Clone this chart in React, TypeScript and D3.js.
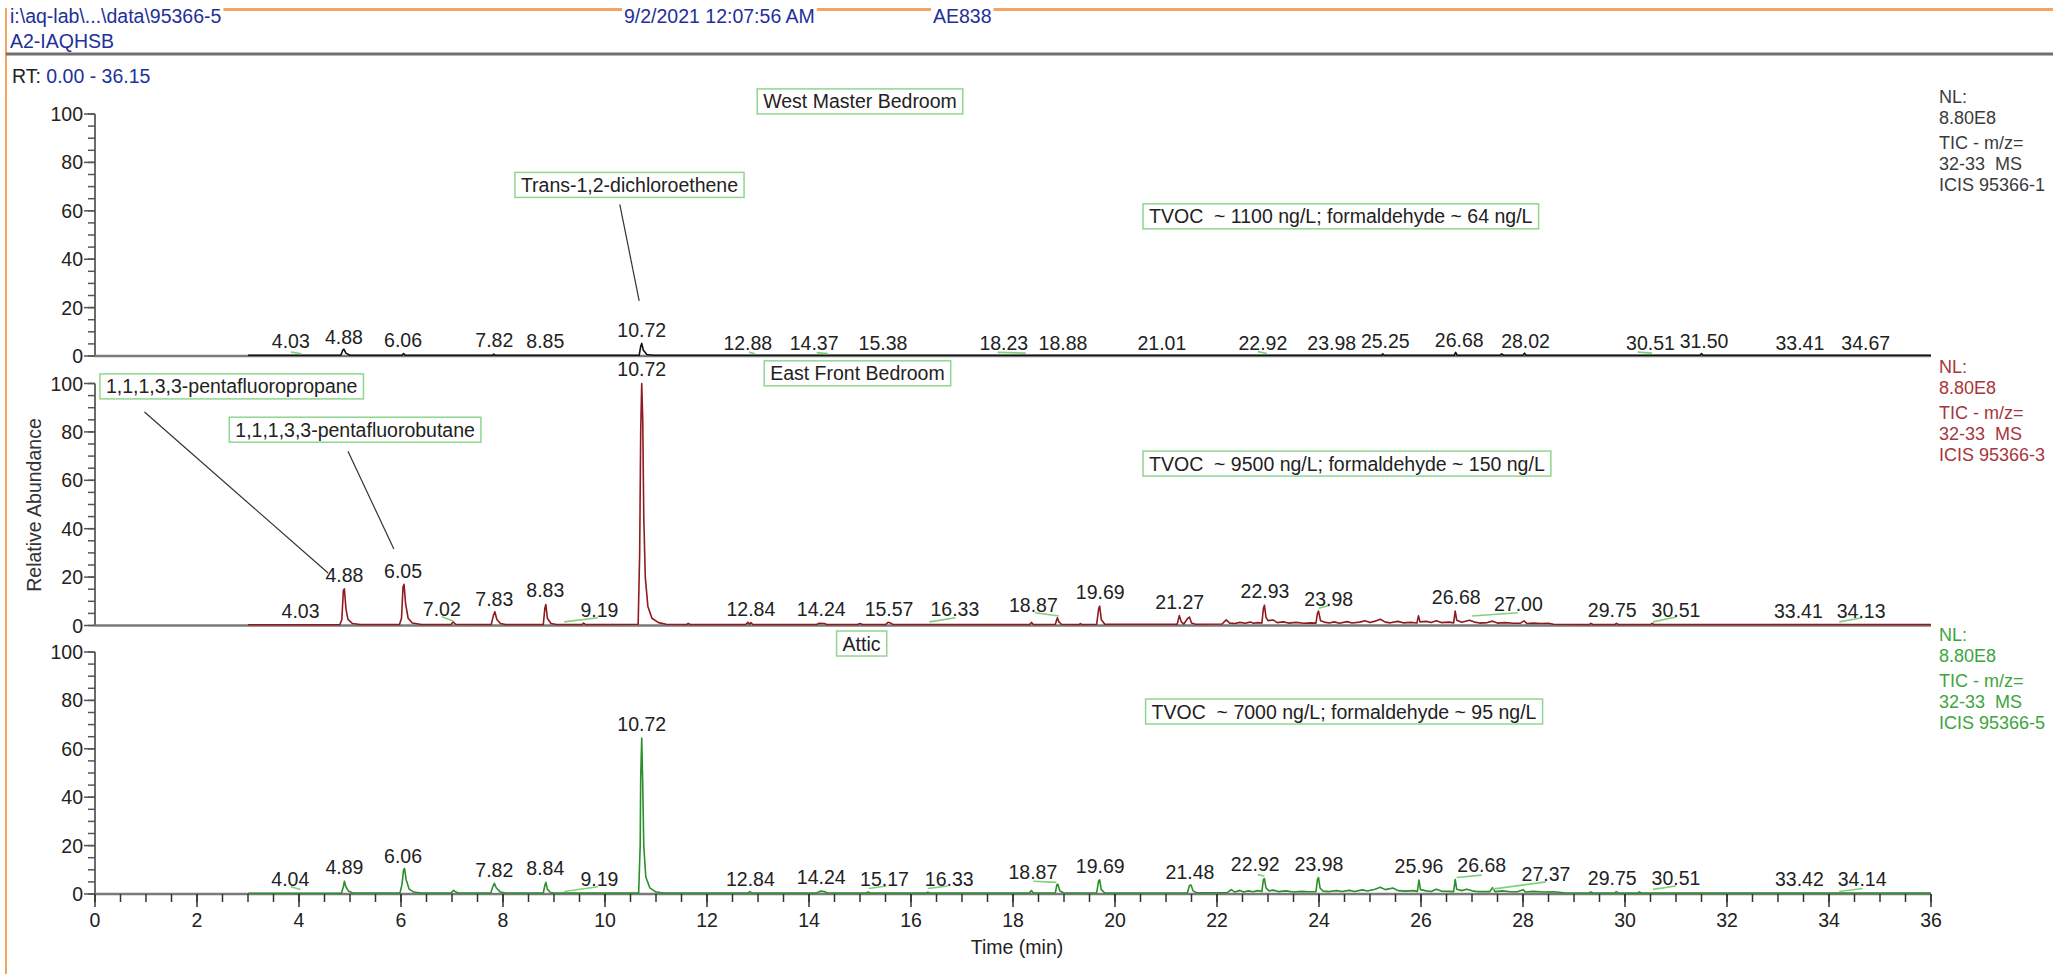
import { useEffect, useRef } from 'react'
import * as d3 from 'd3'

// chromatogram overlay: three rooms, TIC m/z 32-33

const PANEL_NAMES = ['West Master Bedroom', 'East Front Bedroom', 'Attic']
const TVOC_NOTES = [
  'TVOC  ~ 1100 ng/L; formaldehyde ~ 64 ng/L',
  'TVOC  ~ 9500 ng/L; formaldehyde ~ 150 ng/L',
  'TVOC  ~ 7000 ng/L; formaldehyde ~ 95 ng/L',
]
const SAMPLE_IDS = ['ICIS 95366-1', 'ICIS 95366-3', 'ICIS 95366-5']
const NL_VALUE = '8.80E8'
const X_TICK_LABELS = [0, 2, 4, 6, 8, 10, 12, 14, 16, 18, 20, 22, 24, 26, 28, 30, 32, 34, 36]
const Y_TICK_LABELS = [0, 20, 40, 60, 80, 100]

// [time (min), relative abundance]
const WEST_TRACE = [
  [3.0, 0.3], [4.82, 0.3], [4.86, 2.5], [4.88, 2.8], [4.92, 1.2], [5.0, 0.3], [6.02, 0.3], [6.05, 1.0],
  [6.09, 0.3], [7.8, 0.3], [7.82, 0.8], [7.85, 0.3], [10.67, 0.3], [10.7, 4], [10.72, 5.2], [10.75, 2.5],
  [10.82, 0.6], [10.95, 0.3], [25.23, 0.3], [25.25, 0.9], [25.28, 0.3], [26.65, 0.3], [26.68, 1.5],
  [26.71, 0.3], [27.55, 0.3], [27.58, 0.9], [27.62, 0.3], [28.0, 0.3], [28.03, 1.2], [28.06, 0.3],
  [31.47, 0.3], [31.5, 1.0], [31.53, 0.3], [36.0, 0.3],
]
const EAST_TRACE = [
  [3.0, 0.3], [4.8, 0.3], [4.84, 2.5], [4.87, 14.5], [4.89, 15.1], [4.92, 7], [4.96, 2.5], [5.05, 0.8], [5.2, 0.4],
  [5.97, 0.4], [6.01, 3], [6.04, 16], [6.06, 17], [6.09, 9], [6.14, 3], [6.22, 1], [6.4, 0.4],
  [6.98, 0.4], [7.02, 1.5], [7.07, 0.5],
  [7.77, 0.4], [7.81, 4], [7.84, 5.7], [7.88, 2.5], [7.95, 0.8], [8.05, 0.4],
  [8.79, 0.4], [8.82, 7], [8.84, 8.7], [8.87, 3], [8.94, 0.8], [9.05, 0.4],
  [9.55, 0.4], [9.58, 1.0], [9.62, 0.4],
  [10.65, 0.5], [10.68, 30], [10.7, 80], [10.72, 100], [10.74, 85], [10.76, 45], [10.79, 20], [10.84, 8],
  [10.92, 3], [11.05, 1.2], [11.2, 0.5],
  [11.6, 0.4], [11.63, 0.9], [11.67, 0.4],
  [12.76, 0.4], [12.8, 1.3], [12.83, 0.5], [12.86, 1.2], [12.9, 0.4],
  [14.15, 0.4], [14.2, 0.9], [14.3, 0.8], [14.35, 0.4],
  [14.95, 0.4], [15.0, 0.8], [15.05, 0.4],
  [15.5, 0.4], [15.55, 1.3], [15.6, 1.0], [15.65, 0.4],
  [18.33, 0.4], [18.36, 1.3], [18.4, 0.4],
  [18.83, 0.5], [18.87, 3.2], [18.9, 1.5], [18.95, 0.5],
  [19.3, 0.4], [19.32, 0.8], [19.35, 0.4],
  [19.64, 0.5], [19.68, 7], [19.7, 8], [19.73, 2.5], [19.8, 0.5],
  [21.22, 0.5], [21.26, 4.1], [21.3, 1.5], [21.35, 0.6], [21.42, 2.8], [21.46, 3.5], [21.5, 1], [21.58, 0.5],
  [22.1, 0.6], [22.18, 2.3], [22.25, 1.0], [22.35, 0.8], [22.45, 1.3], [22.55, 0.9], [22.65, 1.4], [22.72, 0.9],
  [22.8, 1.2], [22.88, 1.0], [22.91, 7], [22.93, 8.4], [22.96, 3.5], [23.0, 2], [23.1, 2.3], [23.18, 1.2],
  [23.3, 1.5], [23.4, 1.0], [23.55, 1.3], [23.7, 0.9], [23.85, 1.1],
  [23.94, 1.0], [23.97, 5], [23.99, 6], [24.03, 2], [24.1, 1.4], [24.2, 1.0], [24.3, 1.5], [24.4, 0.9],
  [24.55, 1.6], [24.65, 1.0], [24.8, 1.4], [24.9, 2.0], [25.0, 1.2], [25.1, 1.8], [25.2, 2.6], [25.3, 1.4],
  [25.4, 1.1], [25.55, 1.7], [25.65, 1.1], [25.8, 1.3], [25.92, 1.0], [25.95, 4], [25.98, 1.5], [26.1, 1.7],
  [26.2, 1.2], [26.3, 2.0], [26.4, 1.2], [26.55, 1.4], [26.64, 1.1], [26.67, 6], [26.7, 2.2], [26.8, 1.3],
  [26.95, 2.2], [27.05, 1.4], [27.15, 1.0], [27.3, 1.2], [27.4, 1.8], [27.5, 1.0], [27.65, 1.2], [27.8, 0.9],
  [27.95, 1.0], [28.02, 1.9], [28.08, 0.8], [28.2, 1.0], [28.35, 0.8], [28.5, 0.9], [28.6, 0.5],
  [29.3, 0.4], [29.33, 0.9], [29.37, 0.4], [29.8, 0.4], [29.83, 0.9], [29.87, 0.4],
  [30.5, 0.4], [30.53, 0.9], [30.57, 0.4], [36.0, 0.4],
]
const ATTIC_TRACE = [
  [3.0, 0.3], [4.83, 0.3], [4.87, 3], [4.89, 5.3], [4.92, 3], [4.97, 1.2], [5.05, 0.4],
  [5.98, 0.4], [6.02, 4], [6.05, 10], [6.07, 10.5], [6.1, 6], [6.16, 2], [6.25, 0.8], [6.4, 0.4],
  [6.98, 0.4], [7.03, 1.5], [7.08, 0.8], [7.12, 0.4],
  [7.76, 0.4], [7.8, 3], [7.83, 4.4], [7.87, 2.5], [7.95, 0.8], [8.05, 0.4],
  [8.79, 0.4], [8.82, 3.5], [8.84, 4.8], [8.87, 2], [8.93, 0.6], [9.0, 0.4],
  [10.66, 0.4], [10.69, 20], [10.7, 48], [10.72, 64.4], [10.74, 45], [10.76, 20], [10.8, 7], [10.88, 2.5],
  [11.0, 0.8], [11.15, 0.4],
  [12.8, 0.4], [12.84, 1.0], [12.88, 0.4],
  [14.15, 0.4], [14.22, 1.2], [14.3, 1.0], [14.36, 0.4],
  [15.12, 0.4], [15.16, 0.8], [15.2, 0.4],
  [16.3, 0.4], [16.33, 0.8], [16.36, 0.4],
  [18.32, 0.4], [18.36, 1.4], [18.4, 0.4],
  [18.83, 0.5], [18.86, 3.8], [18.88, 4], [18.92, 1.2], [19.0, 0.4],
  [19.64, 0.5], [19.68, 5.5], [19.7, 5.8], [19.73, 1.8], [19.8, 0.4],
  [21.42, 0.5], [21.46, 3.5], [21.49, 3.7], [21.53, 1.3], [21.6, 0.5],
  [22.2, 0.6], [22.28, 1.8], [22.35, 0.8], [22.45, 1.5], [22.52, 0.8], [22.62, 1.3], [22.7, 0.9], [22.8, 1.4],
  [22.88, 1.0], [22.91, 6], [22.93, 6.4], [22.96, 2.5], [23.02, 1.3], [23.1, 1.6], [23.2, 1.0], [23.35, 1.3],
  [23.5, 0.8], [23.65, 1.1], [23.8, 0.9], [23.94, 1.0], [23.97, 6], [23.99, 6.8], [24.02, 2.5], [24.08, 1.2],
  [24.2, 1.0], [24.35, 1.4], [24.45, 1.0], [24.6, 1.5], [24.7, 1.0], [24.85, 1.7], [24.95, 1.2], [25.1, 2.0],
  [25.2, 2.8], [25.3, 1.8], [25.45, 2.5], [25.55, 1.4], [25.7, 1.2], [25.85, 1.4], [25.93, 1.1], [25.96, 5.8],
  [25.99, 1.8], [26.1, 1.3], [26.2, 1.0], [26.3, 2.0], [26.4, 1.2], [26.55, 1.1], [26.64, 1.0], [26.67, 6],
  [26.7, 2], [26.8, 1.4], [26.9, 2.0], [27.0, 1.3], [27.1, 1.0], [27.35, 1.0], [27.4, 2.6], [27.45, 1.0],
  [27.6, 1.3], [27.75, 0.9], [27.9, 1.0], [28.0, 1.8], [28.05, 0.8], [28.2, 1.1], [28.4, 0.8], [28.6, 0.9],
  [28.8, 0.5], [29.3, 0.4], [29.33, 0.9], [29.37, 0.4], [29.8, 0.4], [29.83, 1.0], [29.87, 0.4],
  [30.25, 0.4], [30.28, 0.9], [30.32, 0.4], [36.0, 0.4],
]

// peak labels: [retention time, label centre (min), label level (abundance)]
const WEST_PEAKS = [
  [4.03, 3.84, 3.5], [4.88, 4.88, 4.8], [6.06, 6.04, 3.9], [7.82, 7.83, 3.9], [8.85, 8.83, 3.5],
  [10.72, 10.72, 7.9], [12.88, 12.8, 2.6], [14.37, 14.1, 2.6], [15.38, 15.45, 2.6], [18.23, 17.82, 2.6],
  [18.88, 18.98, 2.6], [21.01, 20.92, 2.6], [22.92, 22.9, 2.6], [23.98, 24.25, 2.6], [25.25, 25.3, 3.2],
  [26.68, 26.75, 3.9], [28.02, 28.05, 3.5], [30.51, 30.5, 2.6], [31.5, 31.55, 3.2], [33.41, 33.43, 2.6],
  [34.67, 34.72, 2.6],
]
const EAST_PEAKS = [
  [4.03, 4.03, 2.9], [4.88, 4.89, 17.8], [6.05, 6.04, 19.8], [7.02, 6.8, 4.0], [7.83, 7.83, 8.2],
  [8.83, 8.83, 11.9], [9.19, 9.89, 3.6], [10.72, 10.72, 103.2], [12.84, 12.86, 4.1], [14.24, 14.24, 4.1],
  [15.57, 15.57, 4.1], [16.33, 16.86, 3.9], [18.87, 18.4, 5.7], [19.69, 19.71, 10.8], [21.27, 21.27, 6.9],
  [22.93, 22.94, 11.5], [23.98, 24.19, 8.0], [26.68, 26.69, 8.7], [27.0, 27.91, 6.0], [29.75, 29.75, 3.6],
  [30.51, 31.0, 3.6], [33.41, 33.4, 3.2], [34.13, 34.63, 3.2],
]
const ATTIC_PEAKS = [
  [4.04, 3.83, 3.3], [4.89, 4.89, 8.1], [6.06, 6.04, 13], [7.82, 7.83, 7.1], [8.84, 8.83, 7.7],
  [9.19, 9.89, 3.4], [10.72, 10.72, 67.4], [12.84, 12.85, 3.4], [14.24, 14.24, 4.1], [15.17, 15.48, 3.4],
  [16.33, 16.75, 3.4], [18.87, 18.39, 6], [19.69, 19.71, 8.8], [21.48, 21.47, 6], [22.92, 22.75, 9.5],
  [23.98, 24.0, 9.6], [25.96, 25.96, 8.8], [26.68, 27.19, 8.9], [27.37, 28.45, 5.5], [29.75, 29.75, 3.7],
  [30.51, 31.0, 3.7], [33.42, 33.42, 3.3], [34.14, 34.65, 3.3],
]

// integration baseline ticks: [t1, a1, t2, a2]
const WEST_MARKS = [
  [3.84, 1.6, 4.05, 0.9], [12.82, 1.6, 12.94, 0.9], [14.15, 1.4, 14.37, 1.0], [17.7, 1.5, 18.25, 1.2],
  [22.8, 1.8, 22.98, 1.0], [30.25, 1.6, 30.53, 1.2],
]
const EAST_MARKS = [
  [6.8, 3.6, 7.02, 1.9], [9.2, 1.5, 9.86, 3.2], [16.36, 1.5, 16.87, 3.2], [18.43, 5.3, 18.9, 3.9],
  [24.0, 7.1, 24.2, 8.3], [27.0, 3.9, 27.9, 5.3], [30.55, 1.5, 31.0, 3.5], [34.2, 1.5, 34.65, 3.2],
]
const ATTIC_MARKS = [
  [3.84, 3.0, 4.03, 1.9], [9.2, 1.0, 9.86, 3.0], [15.17, 2.3, 15.52, 3.3], [16.33, 2.3, 16.72, 3.3],
  [18.4, 5.3, 18.85, 4.8], [22.8, 8, 22.93, 7.4], [26.7, 6.8, 27.19, 7.8], [27.4, 2.0, 28.45, 5.0],
  [30.55, 1.9, 31.0, 3.3], [34.2, 1.0, 34.66, 2.3],
]

// compound callouts (box centre, leader from, leader to) in [min, abundance]
const CALLOUTS = [
  { panel: 0, text: 'Trans-1,2-dichloroethene', at: [10.48, 70.7], from: [10.29, 62.7], to: [10.67, 22.8] },
  { panel: 1, text: '1,1,1,3,3-pentafluoropropane', at: [2.68, 98.8], from: [0.97, 88.2], to: [4.57, 21.7] },
  { panel: 1, text: '1,1,1,3,3-pentafluorobutane', at: [5.1, 80.9], from: [4.96, 72], to: [5.86, 31.6] },
]
const TITLE_POS = [[15.0, 105.2], [14.95, 104.2], [15.03, 103.5]]
const NOTE_POS = [[20.55, 57.7], [20.55, 66.9], [20.6, 75.4]]

const TRACES = [WEST_TRACE, EAST_TRACE, ATTIC_TRACE]
const PEAKS = [WEST_PEAKS, EAST_PEAKS, ATTIC_PEAKS]
const MARKS = [WEST_MARKS, EAST_MARKS, ATTIC_MARKS]

const TRACE_COLORS = ['#111111', '#8e1b1f', '#2b8f2b']
const INFO_COLORS = ['#3b3b3b', '#a8353b', '#3da53d']
const BOX_STROKE = '#8fd68f'
const MARK_COLOR = '#7fd07f'
const HEADER_BLUE = '#23309a'
const TEXT = '#222'
const FONT = '"Liberation Sans", Arial, sans-serif'
const FS = 19.5

const W = 2053
const H = 974
const PLOT_LEFT = 95
const PLOT_RIGHT = 1931
const PANEL_BOTTOM = [356, 625.5, 894]
const PANEL_H = 242

export default function App() {
  const svgRef = useRef<SVGSVGElement>(null)

  useEffect(() => {
    if (!svgRef.current) return
    const svg = d3.select(svgRef.current)
    svg.selectAll('*').remove()
    svg.attr('font-family', FONT).attr('font-size', FS)

    const x = d3.scaleLinear().domain([0, 36]).range([PLOT_LEFT, PLOT_RIGHT])

    // header block
    const head = svg.append('g')
    const addHead = (txt: string, hx: number, hy: number, color: string) =>
      head.append('text').attr('x', hx).attr('y', hy).attr('dominant-baseline', 'central')
        .attr('fill', color).text(txt)
    const h1 = addHead('i:\\aq-lab\\...\\data\\95366-5', 10, 16, HEADER_BLUE)
    const h2 = addHead('9/2/2021 12:07:56 AM', 624, 16, HEADER_BLUE)
    const h3 = addHead('AE838', 933, 16, HEADER_BLUE)
    addHead('A2-IAQHSB', 10, 41, HEADER_BLUE)
    const w1 = (h1.node() as SVGTextElement).getComputedTextLength()
    const w2 = (h2.node() as SVGTextElement).getComputedTextLength()
    const w3 = (h3.node() as SVGTextElement).getComputedTextLength()
    const gaps = [[10 + w1 + 2, 624 - 2], [624 + w2 + 2, 933 - 2], [933 + w3 + 2, W]]
    gaps.forEach(([a, b]) => {
      head.append('line').attr('x1', a).attr('x2', b).attr('y1', 9.5).attr('y2', 9.5)
        .attr('stroke', '#f5a35e').attr('stroke-width', 3)
    })
    head.append('line').attr('x1', 6).attr('x2', 6).attr('y1', 8).attr('y2', H)
      .attr('stroke', '#f5a35e').attr('stroke-width', 2)
    head.append('line').attr('x1', 6).attr('x2', W).attr('y1', 54).attr('y2', 54)
      .attr('stroke', '#6f6f6f').attr('stroke-width', 3)
    const rt = head.append('text').attr('x', 12).attr('y', 76).attr('dominant-baseline', 'central')
    rt.append('tspan').attr('fill', TEXT).text('RT: ')
    rt.append('tspan').attr('fill', HEADER_BLUE).text('0.00 - 36.15')

    // a box with green border around text
    const drawBox = (g: any, text: string, bx: number, by: number, anchor: string) => {
      const t = g.append('text').attr('x', anchor === 'start' ? bx + 6 : bx).attr('y', by)
        .attr('text-anchor', anchor).attr('dominant-baseline', 'central')
        .attr('fill', TEXT).style('white-space', 'pre').text(text)
      const bb = (t.node() as SVGTextElement).getBBox()
      g.insert('rect', () => t.node())
        .attr('x', bb.x - 6).attr('y', by - 12.5)
        .attr('width', bb.width + 12).attr('height', 25)
        .attr('fill', '#fff').attr('stroke', BOX_STROKE).attr('stroke-width', 1.5)
    }

    PANEL_NAMES.forEach((name, i) => {
      const bottom = PANEL_BOTTOM[i]
      const y = d3.scaleLinear().domain([0, 100]).range([bottom, bottom - PANEL_H])
      const g = svg.append('g')

      // y axis
      g.append('line').attr('x1', PLOT_LEFT).attr('x2', PLOT_LEFT).attr('y1', y(0)).attr('y2', y(100))
        .attr('stroke', '#6a6a6a').attr('stroke-width', 2)
      g.selectAll('.ymin').data(y.ticks(20)).join('line')
        .attr('x1', PLOT_LEFT - 7).attr('x2', PLOT_LEFT).attr('y1', (d) => y(d)).attr('y2', (d) => y(d))
        .attr('stroke', '#555').attr('stroke-width', 1.5)
      g.selectAll('.ymaj').data(Y_TICK_LABELS).join('line')
        .attr('x1', PLOT_LEFT - 11).attr('x2', PLOT_LEFT).attr('y1', (d) => y(d)).attr('y2', (d) => y(d))
        .attr('stroke', '#555').attr('stroke-width', 1.5)
      g.selectAll('.ylab').data(Y_TICK_LABELS).join('text')
        .attr('x', PLOT_LEFT - 12).attr('y', (d) => y(d)).attr('text-anchor', 'end')
        .attr('dominant-baseline', 'central').attr('fill', TEXT).text((d) => d)

      // x baseline
      g.append('line').attr('x1', x(0)).attr('x2', x(36)).attr('y1', y(0)).attr('y2', y(0))
        .attr('stroke', '#7a7a7a').attr('stroke-width', 2.5)

      // trace
      const line = d3.line<number[]>().x((d) => x(d[0])).y((d) => y(d[1]))
      g.append('path').datum(TRACES[i]).attr('d', line).attr('fill', 'none')
        .attr('stroke', TRACE_COLORS[i]).attr('stroke-width', 1.6).attr('stroke-linejoin', 'round')

      // integration marks
      g.selectAll('.mark').data(MARKS[i]).join('line')
        .attr('x1', (d) => x(d[0])).attr('y1', (d) => y(d[1]))
        .attr('x2', (d) => x(d[2])).attr('y2', (d) => y(d[3]))
        .attr('stroke', MARK_COLOR).attr('stroke-width', 1.6)

      // peak labels
      g.selectAll('.plab').data(PEAKS[i]).join('text')
        .attr('x', (d) => x(d[1])).attr('y', (d) => y(d[2]))
        .attr('text-anchor', 'middle').attr('fill', TEXT)
        .text((d) => d[0].toFixed(2))

      // callouts
      CALLOUTS.filter((c) => c.panel === i).forEach((c) => {
        g.append('line').attr('x1', x(c.from[0])).attr('y1', y(c.from[1]))
          .attr('x2', x(c.to[0])).attr('y2', y(c.to[1]))
          .attr('stroke', '#333').attr('stroke-width', 1.2)
        drawBox(g, c.text, x(c.at[0]), y(c.at[1]), 'middle')
      })

      drawBox(g, name, x(TITLE_POS[i][0]), y(TITLE_POS[i][1]), 'middle')
      drawBox(g, TVOC_NOTES[i], x(NOTE_POS[i][0]), y(NOTE_POS[i][1]), 'start')

      // info at right
      const info = ['NL:', NL_VALUE, 'TIC - m/z=', '32-33  MS', SAMPLE_IDS[i]]
      const offs = [0, 21, 46, 67, 88]
      info.forEach((s, k) => {
        g.append('text').attr('x', x(36) + 8).attr('y', y(100) - 17 + offs[k])
          .attr('dominant-baseline', 'central').attr('fill', INFO_COLORS[i])
          .attr('font-size', 18).style('white-space', 'pre').text(s)
      })
    })

    // bottom time axis
    const yb = PANEL_BOTTOM[2]
    const axis = svg.append('g')
    axis.selectAll('.xmin').data(x.ticks(72)).join('line')
      .attr('x1', (d) => x(d)).attr('x2', (d) => x(d)).attr('y1', yb).attr('y2', yb + 8)
      .attr('stroke', '#333').attr('stroke-width', 1.5)
    axis.selectAll('.xmaj').data(X_TICK_LABELS).join('line')
      .attr('x1', (d) => x(d)).attr('x2', (d) => x(d)).attr('y1', yb).attr('y2', yb + 13)
      .attr('stroke', '#333').attr('stroke-width', 1.5)
    axis.selectAll('.xlab').data(X_TICK_LABELS).join('text')
      .attr('x', (d) => x(d)).attr('y', 920).attr('text-anchor', 'middle')
      .attr('dominant-baseline', 'central').attr('fill', TEXT).text((d) => d)
    axis.append('text').attr('x', x(18) + 4).attr('y', 947).attr('text-anchor', 'middle')
      .attr('dominant-baseline', 'central').attr('fill', TEXT).text('Time (min)')
    axis.append('text').attr('transform', 'translate(34,505) rotate(-90)')
      .attr('text-anchor', 'middle').attr('dominant-baseline', 'central')
      .attr('fill', '#333').text('Relative Abundance')
  }, [])

  return (
    <svg
      ref={svgRef}
      width={W}
      height={H}
      style={{ position: 'absolute', left: 0, top: 0, background: '#fff' }}
    />
  )
}
